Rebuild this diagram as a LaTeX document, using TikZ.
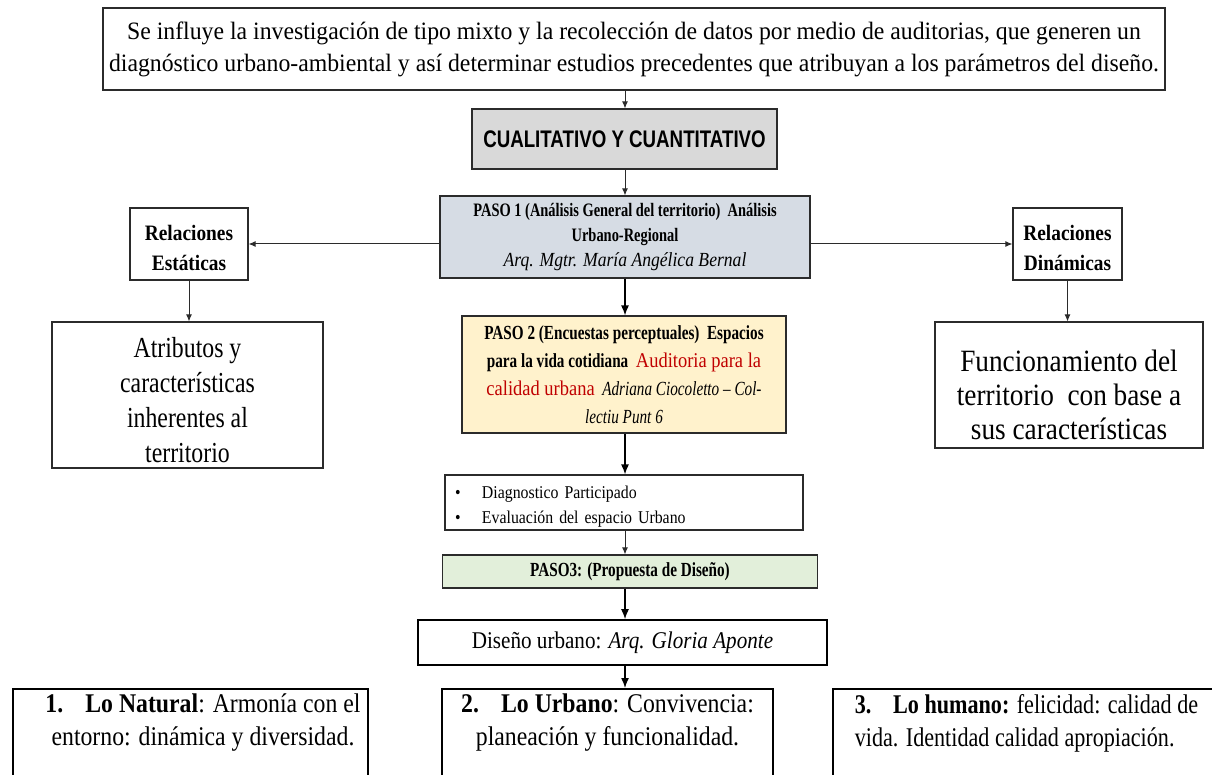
\documentclass[tikz,border=0pt]{standalone}
\usepackage{fontspec}
\usetikzlibrary{arrows.meta}
\setmainfont{Liberation Serif}
\newfontfamily\serifN[FakeStretch=0.88]{Liberation Serif}
\newfontfamily\serifW[FakeStretch=0.95]{Liberation Serif}
\newfontfamily\serifM[FakeStretch=0.82]{Liberation Serif}
\newfontfamily\serifC[FakeStretch=0.76]{Liberation Serif}
\newfontfamily\sansC[FakeStretch=0.78]{Liberation Sans}
\definecolor{cualgray}{HTML}{D9D9D9}
\definecolor{pasoblue}{HTML}{D6DCE4}
\definecolor{pasoyellow}{HTML}{FFF2CC}
\definecolor{pasogreen}{HTML}{E2EFDA}
\definecolor{redtxt}{HTML}{C00000}
\definecolor{linegray}{HTML}{2B2B2B}
\newcommand{\lift}[1]{\rule{0pt}{#1}}

\begin{document}
\begin{tikzpicture}[x=1pt,y=-1pt]
\tikzstyle{box}=[draw=linegray, line width=1.1pt, inner sep=0pt, align=center]
\tikzstyle{bottombox}=[draw=black, line width=2.4pt, inner xsep=0pt, inner ysep=5pt, anchor=north, text depth=55pt, font=\serifN\fontsize{27}{33}\selectfont]
\tikzstyle{flow}=[-{Latex[length=7pt,width=6pt]}, draw=linegray, line width=1pt]
\tikzstyle{bigflow}=[-{Latex[length=10pt,width=8pt]}, draw=black, line width=1.4pt]

\useasboundingbox (0,0) rectangle (1212,775);
\coordinate (axis) at (625,0);

\node (intro) at (634,49) [box, minimum width=1062, minimum height=82, font=\serifW\fontsize{25}{32}\selectfont]
  {Se influye la investigación de tipo mixto y la recolección de datos por medio de auditorias, que generen un\\
   diagnóstico urbano-ambiental y así determinar estudios precedentes que atribuyan a los parámetros del diseño.};

\node (cual) at (624.5,139) [box, fill=cualgray, minimum width=305, minimum height=60, font=\sansC\bfseries\fontsize{24}{26}\selectfont] {CUALITATIVO Y CUANTITATIVO};

\node (paso1) at (625,237) [box, fill=pasoblue, minimum width=370, minimum height=82, font=\serifC\fontsize{19}{25}\selectfont]
  {\textbf{PASO 1 (Análisis General del territorio)\ \ Análisis}\\
   \textbf{Urbano-Regional}\\
   {\serifN\itshape\fontsize{20}{25}\selectfont Arq. Mgtr. María Angélica Bernal}};

\node (relest) at (189,244) [box, minimum width=118, minimum height=72, font=\serifN\bfseries\fontsize{22}{30}\selectfont] {\lift{23pt}Relaciones\\Estáticas};
\node (reldin) at (1067.5,244) [box, minimum width=109, minimum height=72, font=\serifN\bfseries\fontsize{22}{30}\selectfont] {\lift{23pt}Relaciones\\Dinámicas};

\node (atrib) at (187.5,395) [box, minimum width=271, minimum height=146, font=\serifM\fontsize{29}{35}\selectfont]
  {\lift{30pt}Atributos y\\características\\inherentes al\\territorio};
\node (funcion) at (1069,385) [box, minimum width=268, minimum height=126, font=\serifN\fontsize{31}{34}\selectfont]
  {\lift{41pt}Funcionamiento del\\territorio\ \ con base a\\sus características};

\node (paso2) at (624,374.5) [box, fill=pasoyellow, minimum width=324, minimum height=117, font=\serifC\fontsize{20}{28}\selectfont]
  {\textbf{PASO 2 (Encuestas perceptuales)\ \ Espacios}\\
   \textbf{para la vida cotidiana}\ \ {\serifN\color{redtxt}\fontsize{21}{28}\selectfont Auditoria para la}\\
   {\serifN\color{redtxt}\fontsize{21}{28}\selectfont calidad urbana}\ \ {\itshape Adriana Ciocoletto – Col-}\\
   {\itshape lectiu Punt 6}};

\node (diag) at (624,502.5) [box, minimum width=358, minimum height=55, align=left, text width=338, font=\serifN\fontsize{18}{25}\selectfont]
  {\lift{20pt}\makebox[27pt][l]{\textbullet}Diagnostico Participado\\
   \makebox[27pt][l]{\textbullet}Evaluación del espacio Urbano};

\node (paso3) at (630,571.5) [box, fill=pasogreen, minimum width=375, minimum height=33, font=\serifC\bfseries\fontsize{20}{24}\selectfont] {PASO3: (Propuesta de Diseño)};

\node (diseno) at (622.5,642.5) [box, draw=black, line width=1.6pt, minimum width=409, minimum height=45, font=\serifN\fontsize{24}{28}\selectfont] {Diseño urbano: \textit{Arq. Gloria Aponte}};

\node (natural) at (190.5,688) [bottombox, minimum width=355, align=center]
  {\hspace*{25pt}\textbf{1.}\hspace{0.6em}\ \textbf{Lo Natural}: Armonía con el\\ \hspace*{25pt}entorno: dinámica y diversidad.};
\node (urbano) at (607.5,688) [bottombox, minimum width=331, align=center]
  {\textbf{2.}\hspace{0.6em}\ \textbf{Lo Urbano}: Convivencia:\\ planeación y funcionalidad.};
\node (humano) at (1026.5,688) [bottombox, minimum width=387, align=left, font=\serifM\fontsize{27}{33}\selectfont]
  {\textbf{3.}\hspace{0.6em}\ \textbf{Lo humano:} felicidad: calidad de\\ vida. Identidad calidad apropiación.};

\draw [flow] (intro.south -| axis) -- (cual.north -| axis);
\draw [flow] (cual.south -| axis) -- (paso1.north -| axis);
\draw [bigflow] (paso1.south -| axis) -- (paso2.north -| axis);
\draw [bigflow] (paso2.south -| axis) -- (diag.north -| axis);
\draw [flow] (diag.south -| axis) -- (paso3.north -| axis);
\draw [bigflow] (paso3.south -| axis) -- (diseno.north -| axis);
\draw [bigflow] (diseno.south -| axis) -- (urbano.north -| axis);

\draw [flow] (paso1.west |- relest) -- (relest.east);
\draw [flow] (paso1.east |- reldin) -- (reldin.west);
\draw [flow] (relest.south) -- (relest.south |- atrib.north);
\draw [flow] (reldin.south) -- (reldin.south |- funcion.north);

\end{tikzpicture}
\end{document}
